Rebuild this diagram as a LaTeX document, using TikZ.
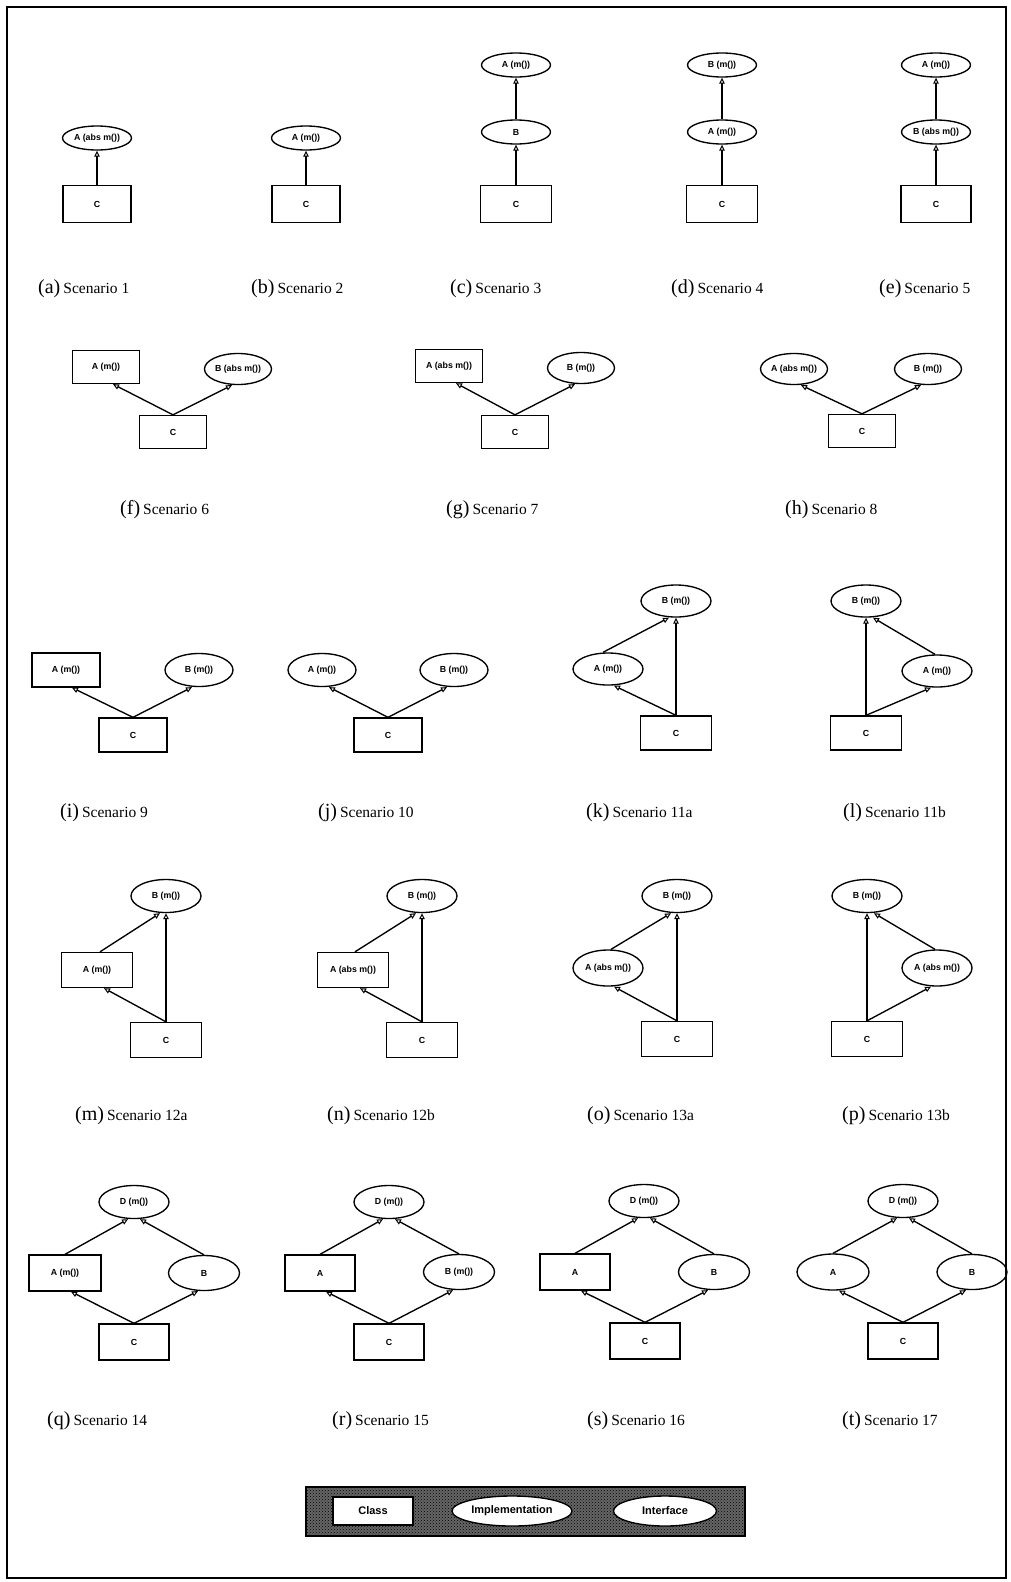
\documentclass[tikz,border=0pt]{standalone}
\usepackage{fontspec}
\setmainfont{Liberation Serif}
\newfontfamily\nodefont{Liberation Sans}
\usetikzlibrary{shapes.geometric,arrows.meta,calc,patterns}
\newcommand{\capt}[2]{{\fontsize{20}{21}\selectfont(#1)}\kern3pt{\fontsize{15.5}{16}\selectfont Scenario #2}}
\begin{document}
\begin{tikzpicture}[x=1pt,y=-1pt,
  nodebase/.style={draw, line width=1.35pt, inner sep=0pt, font=\nodefont\bfseries\fontsize{8.8}{10}\selectfont},
  cls/.style={nodebase, rectangle},
  impl/.style={nodebase, ellipse},
  r1/.style={minimum width=68, minimum height=37},
  e1/.style={minimum width=69, minimum height=24},
  r2/.style={minimum width=67, minimum height=33},
  e2/.style={minimum width=67, minimum height=31},
  r3/.style={minimum width=68, minimum height=34},
  e3/.style={minimum width=68, minimum height=33},
  r4/.style={minimum width=71, minimum height=35},
  e4/.style={minimum width=70, minimum height=33},
  r5/.style={minimum width=70, minimum height=36},
  e5/.style={minimum width=70, minimum height=33},
  inh/.style={line width=1.35pt, -{Triangle[open, length=6pt, width=5.5pt, line width=1pt]}},
  captxt/.style={anchor=west, inner sep=0pt},
  legtext/.style={font=\nodefont\bfseries\fontsize{11}{12}\selectfont}
]
\useasboundingbox (0,0) rectangle (1010,1582);
\draw[line width=1.6pt] (7,7) rectangle (1006,1578);

% ---------- Row 1 ----------
\node[impl,e1] (aA) at (97,138) {A (abs m())};
\node[cls,r1] (aC) at (97,204) {C};
\draw[inh] (aC.north) -- (aA.south);
\node[captxt] (capa) at (38,289) {\capt{a}{1}};

\node[impl,e1] (bA) at (306,138) {A (m())};
\node[cls,r1] (bC) at (306,204) {C};
\draw[inh] (bC.north) -- (bA.south);
\node[captxt] (capb) at (251,289) {\capt{b}{2}};

\node[impl,e1] (cA) at (516,65) {A (m())};
\node[impl,e1] (cB) at (516,132) {B};
\node[cls,r1,minimum width=71] (cC) at (516,204) {C};
\draw[inh] (cC.north) -- (cB.south);
\draw[inh] (cB.north) -- (cA.south);
\node[captxt] (capc) at (450,289) {\capt{c}{3}};

\node[impl,e1] (dB) at (722,65) {B (m())};
\node[impl,e1] (dA) at (722,132) {A (m())};
\node[cls,r1,minimum width=71] (dC) at (722,204) {C};
\draw[inh] (dC.north) -- (dA.south);
\draw[inh] (dA.north) -- (dB.south);
\node[captxt] (capd) at (671,289) {\capt{d}{4}};

\node[impl,e1] (eA) at (936,65) {A (m())};
\node[impl,e1] (eB) at (936,132) {B (abs m())};
\node[cls,r1,minimum width=70] (eC) at (936,204) {C};
\draw[inh] (eC.north) -- (eB.south);
\draw[inh] (eB.north) -- (eA.south);
\node[captxt] (cape) at (879,289) {\capt{e}{5}};

% ---------- Row 2 ----------
\node[cls,r2] (fA) at (106,367) {A (m())};
\node[impl,e2] (fB) at (238,369) {B (abs m())};
\node[cls,r2] (fC) at (173,432) {C};
\draw[inh] (fC.north) -- ($(fA.south)+(7,0)$);
\draw[inh] (fC.north) -- ($(fB.south)+(-6,0)$);
\node[captxt] (capf) at (120,510) {\capt{f}{6}};

\node[cls,r2] (gA) at (449,366) {A (abs m())};
\node[impl,e2] (gB) at (581,368) {B (m())};
\node[cls,r2] (gC) at (515,432) {C};
\draw[inh] (gC.north) -- ($(gA.south)+(7,0)$);
\draw[inh] (gC.north) -- ($(gB.south)+(-6,0)$);
\node[captxt] (capg) at (446,510) {\capt{g}{7}};

\node[impl,e2] (hA) at (794,369) {A (abs m())};
\node[impl,e2] (hB) at (928,369) {B (m())};
\node[cls,r2] (hC) at (862,431) {C};
\draw[inh] (hC.north) -- ($(hA.south)+(7,0)$);
\draw[inh] (hC.north) -- ($(hB.south)+(-7,0)$);
\node[captxt] (caph) at (785,510) {\capt{h}{8}};

% ---------- Row 3 ----------
\node[cls,r3] (iA) at (66,670) {A (m())};
\node[impl,e3] (iB) at (199,670) {B (m())};
\node[cls,r3] (iC) at (133,735) {C};
\draw[inh] (iC.north) -- ($(iA.south)+(6,0)$);
\draw[inh] (iC.north) -- ($(iB.south)+(-7,0)$);
\node[captxt] (capi) at (60,813) {\capt{i}{9}};

\node[impl,e3] (jA) at (322,670) {A (m())};
\node[impl,e3] (jB) at (454,670) {B (m())};
\node[cls,r3] (jC) at (388,735) {C};
\draw[inh] (jC.north) -- ($(jA.south)+(7,0)$);
\draw[inh] (jC.north) -- ($(jB.south)+(-7,0)$);
\node[captxt] (capj) at (318,813) {\capt{j}{10}};

\node[impl,e3,minimum width=70,minimum height=32] (kB) at (676,601) {B (m())};
\node[impl,e3,minimum width=70,minimum height=32] (kA) at (608,669) {A (m())};
\node[cls,r3,minimum width=71] (kC) at (676,733) {C};
\draw[inh] (kC.north) -- (kB.south);
\draw[inh] ($(kA.north)+(-5,0)$) -- ($(kB.south)+(-7,0)$);
\draw[inh] (kC.north) -- ($(kA.south)+(6,0)$);
\node[captxt] (capk) at (586,813) {\capt{k}{11a}};

\node[impl,e3,minimum width=70,minimum height=32] (lB) at (866,601) {B (m())};
\node[impl,e3,minimum width=70,minimum height=32] (lA) at (937,671) {A (m())};
\node[cls,r3,minimum width=71] (lC) at (866,733) {C};
\draw[inh] (lC.north) -- (lB.south);
\draw[inh] ($(lA.north)+(-2,0)$) -- ($(lB.south)+(7,0)$);
\draw[inh] (lC.north) -- ($(lA.south)+(-6,0)$);
\node[captxt] (capl) at (843,813) {\capt{l}{11b}};

% ---------- Row 4 ----------
\node[impl,e4] (mB) at (166,896) {B (m())};
\node[cls,r4] (mA) at (97,970) {A (m())};
\node[cls,r4] (mC) at (166,1040) {C};
\draw[inh] (mC.north) -- (mB.south);
\draw[inh] ($(mA.north)+(3,0)$) -- ($(mB.south)+(-6,0)$);
\draw[inh] (mC.north) -- ($(mA.south)+(7,0)$);
\node[captxt] (capm) at (75,1116) {\capt{m}{12a}};

\node[impl,e4] (nB) at (422,896) {B (m())};
\node[cls,r4] (nA) at (353,970) {A (abs m())};
\node[cls,r4] (nC) at (422,1040) {C};
\draw[inh] (nC.north) -- (nB.south);
\draw[inh] ($(nA.north)+(2,0)$) -- ($(nB.south)+(-6,0)$);
\draw[inh] (nC.north) -- ($(nA.south)+(7,0)$);
\node[captxt] (capn) at (327,1116) {\capt{n}{12b}};

\node[impl,e4] (oB) at (677,896) {B (m())};
\node[impl,e4,minimum height=36] (oA) at (608,968) {A (abs m())};
\node[cls,r4] (oC) at (677,1039) {C};
\draw[inh] (oC.north) -- (oB.south);
\draw[inh] ($(oA.north)+(3,0)$) -- ($(oB.south)+(-6,0)$);
\draw[inh] (oC.north) -- ($(oA.south)+(6,0)$);
\node[captxt] (capo) at (587,1116) {\capt{o}{13a}};

\node[impl,e4] (pB) at (867,896) {B (m())};
\node[impl,e4,minimum height=36] (pA) at (937,968) {A (abs m())};
\node[cls,r4] (pC) at (867,1039) {C};
\draw[inh] (pC.north) -- (pB.south);
\draw[inh] ($(pA.north)+(-2,0)$) -- ($(pB.south)+(7,0)$);
\draw[inh] (pC.north) -- ($(pA.south)+(-6,0)$);
\node[captxt] (capp) at (842,1116) {\capt{p}{13b}};

% ---------- Row 5 ----------
\node[impl,e5] (qD) at (134,1202) {D (m())};
\node[cls,r5,minimum width=72] (qA) at (65,1273) {A (m())};
\node[impl,e5,minimum width=71,minimum height=35] (qB) at (204,1273) {B};
\node[cls,r5] (qC) at (134,1342) {C};
\draw[inh] (qA.north) -- ($(qD.south)+(-6,0)$);
\draw[inh] (qB.north) -- ($(qD.south)+(6,0)$);
\draw[inh] (qC.north) -- ($(qA.south)+(6,0)$);
\draw[inh] (qC.north) -- ($(qB.south)+(-6,0)$);
\node[captxt] (capq) at (47,1421) {\capt{q}{14}};

\node[impl,e5] (rD) at (389,1202) {D (m())};
\node[cls,r5] (rA) at (320,1273) {A};
\node[impl,e5,minimum width=71,minimum height=35] (rB) at (459,1272) {B (m())};
\node[cls,r5] (rC) at (389,1342) {C};
\draw[inh] (rA.north) -- ($(rD.south)+(-6,0)$);
\draw[inh] (rB.north) -- ($(rD.south)+(6,0)$);
\draw[inh] (rC.north) -- ($(rA.south)+(6,0)$);
\draw[inh] (rC.north) -- ($(rB.south)+(-6,0)$);
\node[captxt] (capr) at (332,1421) {\capt{r}{15}};

\node[impl,e5] (sD) at (644,1201) {D (m())};
\node[cls,r5] (sA) at (575,1272) {A};
\node[impl,e5,minimum width=71,minimum height=35] (sB) at (714,1272) {B};
\node[cls,r5] (sC) at (645,1341) {C};
\draw[inh] (sA.north) -- ($(sD.south)+(-6,0)$);
\draw[inh] (sB.north) -- ($(sD.south)+(6,0)$);
\draw[inh] (sC.north) -- ($(sA.south)+(6,0)$);
\draw[inh] (sC.north) -- ($(sB.south)+(-6,0)$);
\node[captxt] (caps) at (587,1421) {\capt{s}{16}};

\node[impl,e5] (tD) at (903,1201) {D (m())};
\node[impl,e5,minimum width=72,minimum height=36] (tA) at (833,1272) {A};
\node[impl,e5,minimum width=70,minimum height=35] (tB) at (972,1272) {B};
\node[cls,r5] (tC) at (903,1341) {C};
\draw[inh] (tA.north) -- ($(tD.south)+(-6,0)$);
\draw[inh] (tB.north) -- ($(tD.south)+(6,0)$);
\draw[inh] (tC.north) -- ($(tA.south)+(6,0)$);
\draw[inh] (tC.north) -- ($(tB.south)+(-6,0)$);
\node[captxt] (capt) at (842,1421) {\capt{t}{17}};

% ---------- Legend ----------
\node[draw, line width=1.3pt, fill=black!60, postaction={pattern=crosshatch dots, pattern color=black}, minimum width=439, minimum height=49, inner sep=0pt] (legend) at (525.5,1511.5) {};
\node[cls, legtext, fill=white, minimum width=80, minimum height=28] (lgclass) at (373,1511) {Class};
\node[impl, legtext, fill=white, minimum width=120, minimum height=30] (lgimpl) at (512,1511) {Implementation};
\node[impl, legtext, fill=white, minimum width=103, minimum height=30] (lgint) at (665,1511) {Interface};
\end{tikzpicture}
\end{document}
